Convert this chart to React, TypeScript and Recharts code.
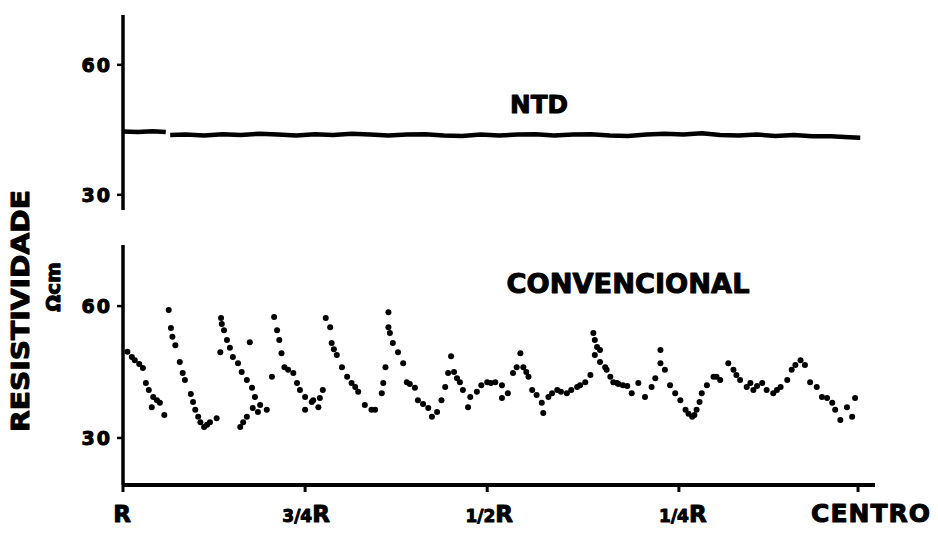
import React from "react";
import {
  LineChart,
  Line,
  ScatterChart,
  Scatter,
  XAxis,
  YAxis,
} from "recharts";

// x positions run from R (0) to CENTRO (~100)
const xTicks = [0, 24.7, 49.4, 75.4, 99.7];
const xTickLabels = ["R", "3/4R", "1/2R", "1/4R", "CENTRO"];
const yTicks = [30, 60];

// NTD trace (upper panel), null = small gap near the start
const ntdPos = [
  0, 2, 4, 5.8, 6.1, 6.4, 8.5, 11, 13.5, 16, 18.5, 21, 23.5, 26, 28.5, 31, 33.5,
  36, 38.5, 41, 43.5, 46, 48.5, 51, 53.5, 56, 58.5, 61, 63.5, 66, 68.5, 71,
  73.5, 76, 78.5, 81, 83.5, 86, 88.5, 91, 93.5, 96, 98.5, 100,
];
const ntdVal = [
  44.6, 44.5, 44.7, 44.5, null, 43.8, 43.9, 43.7, 44.0, 43.8, 44.1, 43.9, 43.7,
  44.0, 43.8, 44.1, 43.9, 43.7, 43.9, 44.0, 43.7, 43.6, 43.9, 43.7, 43.9, 44.0,
  43.7, 43.9, 44.0, 43.7, 43.6, 43.9, 44.1, 43.9, 44.2, 43.8, 43.7, 43.9, 43.6,
  43.8, 43.5, 43.5, 43.3, 43.2,
];

// CONVENCIONAL trace (lower panel), dotted readings
const convX = [
  0.6, 1.2, 1.6, 2.2, 2.7, 3.1, 3.5, 4.1, 4.6, 5.0, 3.9, 5.6,
  6.2, 6.5, 6.7, 7.1, 7.7, 8.1, 8.4, 9.2, 9.5, 9.8, 10.2, 10.5, 11.0, 11.4, 11.8, 12.7,
  13.3, 13.4, 13.7, 14.1, 13.2, 14.5, 14.9, 15.6, 16.1, 16.8, 17.5, 17.9, 18.6, 19.5,
  15.9, 16.3, 16.8, 17.6, 18.3, 17.2, 20.2,
  20.5, 20.9, 21.2, 21.5, 21.9, 22.4, 23.1, 23.6, 24.0, 24.7, 25.6, 24.7, 25.8, 26.5, 27.1, 26.7,
  27.5, 28.1, 28.3, 28.6, 29.0, 29.7, 30.4, 31.0, 31.5, 31.9, 32.8, 33.7, 34.2,
  35.1, 35.3, 35.6, 36.0, 36.0, 36.2, 36.6, 37.3, 38.0, 38.5, 38.9, 39.6, 40.0, 40.7, 41.4, 41.9, 42.6,
  43.2, 43.7, 44.1, 44.5, 44.9, 45.3, 45.7, 46.1, 46.8, 47.1,
  48.0, 48.6, 49.4, 49.9, 50.5, 51.4, 52.2, 51.4,
  52.9, 53.4, 53.9, 54.3, 54.7, 55.0, 55.5, 56.1, 56.8, 57.0, 57.7, 58.2, 58.9, 59.4, 60.2, 60.8,
  61.6, 62.0, 62.7, 63.4,
  63.8, 64.0, 64.3, 64.0, 64.7, 65.4, 66.1, 67.0,
  64.7, 65.6, 66.5, 67.2, 67.8, 68.4, 69.0, 69.9, 70.8, 71.7, 72.2, 72.9, 72.9, 73.5, 74.2, 74.9,
  75.6, 76.3, 76.7, 77.2, 77.5, 77.8, 78.2, 78.5, 79.2, 80.1, 80.5, 81.0, 82.1, 82.8, 83.2, 83.7,
  84.6, 85.1, 85.5, 86.0, 86.7, 87.3, 88.2, 88.7, 89.2, 90.1, 90.7, 91.2, 91.9, 92.5, 93.2, 94.1,
  94.8, 95.5, 96.2, 96.6, 97.3, 98.2, 98.9, 99.3,
];
const convY = [
  49.6, 48.4, 47.7, 46.8, 45.9, 42.5, 40.9, 39.3, 38.6, 38.0, 37.0, 35.2,
  59.1, 55.0, 53.0, 51.1, 47.3, 44.8, 43.2, 40.0, 38.2, 36.4, 34.8, 33.6, 32.5, 33.0, 33.6, 34.5,
  57.3, 55.9, 54.5, 52.3, 49.5, 50.5, 48.4, 47.0, 45.0, 43.2, 41.4, 39.3, 37.5, 36.4,
  32.5, 33.6, 34.8, 36.8, 35.9, 51.8, 43.9,
  57.5, 54.5, 52.3, 49.3, 46.1, 45.5, 44.8, 42.5, 40.9, 39.3, 38.2, 36.4, 38.6, 37.0, 40.9, 39.1,
  57.3, 55.2, 51.6, 50.2, 48.9, 46.1, 43.9, 42.5, 41.6, 40.5, 37.5, 36.4, 36.4,
  40.2, 42.5, 46.1, 58.6, 55.2, 53.9, 51.6, 49.5, 47.0, 42.7, 42.3, 41.4, 38.6, 37.7, 36.8, 34.8, 35.9,
  38.6, 41.6, 44.8, 48.6, 45.0, 43.6, 42.7, 40.9, 37.0, 39.3,
  40.5, 42.0, 42.7, 42.5, 42.7, 42.0, 40.2, 39.1,
  44.8, 46.1, 49.3, 46.1, 45.0, 43.9, 40.9, 39.8, 38.0, 35.7, 39.3, 40.2, 40.9, 40.5, 40.2, 40.9,
  41.6, 42.0, 42.7, 44.3,
  53.9, 52.3, 50.7, 48.9, 47.3, 46.1, 43.9, 42.5,
  50.0, 45.5, 42.7, 42.3, 42.0, 41.8, 40.2, 42.5, 39.3, 41.6, 43.6, 47.0, 50.0, 45.5, 42.0, 40.2,
  38.6, 36.4, 35.5, 34.8, 35.2, 36.4, 38.2, 40.2, 42.0, 43.9, 43.9, 43.2, 47.0, 45.5, 44.3, 43.2,
  41.6, 42.5, 40.9, 41.8, 42.5, 40.9, 40.2, 40.9, 41.6, 43.2, 45.5, 46.6, 47.7, 46.6, 42.7, 41.6,
  39.3, 39.1, 38.0, 36.4, 34.1, 37.0, 34.8, 39.1,
];

// per-label horizontal nudge so labels sit like the original lettering
const xLabelShift = [-1, 1, 2, 4, 13];

const ntdData = ntdPos.map((x, i) => ({ x, v: ntdVal[i] }));
const convData = convX.map((x, i) => ({ x, y: convY[i] }));

const FONT = "'DejaVu Sans', 'Liberation Sans', sans-serif";
const W = 938;
const H = 533;

// heavy lettering, like the stencilled labels of the original
const heavy = { stroke: "#000", strokeWidth: 1, strokeLinejoin: "round" as const };

function YTick(props: any) {
  const { x, y, payload } = props;
  return (
    <text
      x={x - 3}
      y={y}
      dy="0.36em"
      textAnchor="end"
      fontFamily={FONT}
      fontWeight="bold"
      fontSize={19}
      letterSpacing={2}
      fill="#000"
      {...heavy}
    >
      {payload.value}
    </text>
  );
}

function XTick(props: any) {
  const { x, y, payload } = props;
  const i = xTicks.indexOf(payload.value);
  const label = xTickLabels[i] ?? "";
  const cx = x + (xLabelShift[i] ?? 0);
  const base = y + 28;
  if (label.length > 1 && label.endsWith("R") && label.includes("/")) {
    return (
      <text
        x={cx}
        y={base}
        textAnchor="middle"
        fontFamily={FONT}
        fontWeight="bold"
        fill="#000"
        {...heavy}
      >
        <tspan fontSize={17}>{label.slice(0, -1)}</tspan>
        <tspan fontSize={23}>R</tspan>
      </text>
    );
  }
  return (
    <text
      x={cx}
      y={base}
      textAnchor="middle"
      fontFamily={FONT}
      fontWeight="bold"
      fontSize={label.length > 1 ? 25 : 23}
      letterSpacing={label.length > 1 ? 1 : 0}
      fill="#000"
      {...heavy}
    >
      {label}
    </text>
  );
}

const axisLine = { stroke: "#000", strokeWidth: 3.5 };
const tickLine = { stroke: "#000", strokeWidth: 2.5 };

export default function App() {
  return (
    <div
      style={{
        position: "absolute",
        left: 0,
        top: 0,
        width: W,
        height: H,
        background: "#fff",
      }}
    >
      <div style={{ position: "absolute", left: 0, top: 0 }}>
        <LineChart
          width={W}
          height={H}
          data={ntdData}
          margin={{ top: 15, right: 63, bottom: 323, left: 63 }}
        >
          <XAxis type="number" dataKey="x" domain={[0, 102]} hide />
          <YAxis
            type="number"
            domain={[26.5, 71.5]}
            ticks={yTicks}
            width={60}
            axisLine={axisLine}
            tickLine={tickLine}
            tickSize={6}
            tick={<YTick />}
          />
          <Line
            type="linear"
            dataKey="v"
            stroke="#000"
            strokeWidth={4.5}
            dot={false}
            isAnimationActive={false}
          />
        </LineChart>
      </div>

      <div style={{ position: "absolute", left: 0, top: 0 }}>
        <ScatterChart
          width={W}
          height={H}
          margin={{ top: 245, right: 63, bottom: 8, left: 63 }}
        >
          <XAxis
            type="number"
            dataKey="x"
            domain={[0, 102]}
            ticks={xTicks}
            height={40}
            axisLine={{ stroke: "#000", strokeWidth: 4 }}
            tickLine={{ stroke: "#000", strokeWidth: 3 }}
            tickSize={7}
            tick={<XTick />}
          />
          <YAxis
            type="number"
            dataKey="y"
            domain={[19.3, 73.9]}
            ticks={yTicks}
            width={60}
            axisLine={axisLine}
            tickLine={tickLine}
            tickSize={6}
            tick={<YTick />}
          />
          <Scatter
            data={convData}
            fill="#000"
            isAnimationActive={false}
            shape={(p: any) => <circle cx={p.cx} cy={p.cy} r={3} fill="#000" />}
          />
        </ScatterChart>
      </div>

      <svg
        width={W}
        height={H}
        style={{ position: "absolute", left: 0, top: 0, pointerEvents: "none" }}
      >
        <text
          transform="translate(29, 311) rotate(-90)"
          textAnchor="middle"
          fontFamily={FONT}
          fontWeight="bold"
          fontSize={25}
          textLength={242}
          lengthAdjust="spacingAndGlyphs"
          fill="#000"
          {...heavy}
        >
          RESISTIVIDADE
        </text>
        <text
          transform="translate(60, 287) rotate(-90)"
          textAnchor="middle"
          fontFamily={FONT}
          fontWeight="bold"
          fontSize={20}
          fill="#000"
          {...heavy}
        >
          Ωcm
        </text>
        <text
          x={539}
          y={113}
          textAnchor="middle"
          fontFamily={FONT}
          fontWeight="bold"
          fontSize={25}
          textLength={58}
          lengthAdjust="spacingAndGlyphs"
          fill="#000"
          {...heavy}
        >
          NTD
        </text>
        <text
          x={628}
          y={293}
          textAnchor="middle"
          fontFamily={FONT}
          fontWeight="bold"
          fontSize={27}
          textLength={243}
          lengthAdjust="spacingAndGlyphs"
          fill="#000"
          {...heavy}
        >
          CONVENCIONAL
        </text>
      </svg>
    </div>
  );
}
